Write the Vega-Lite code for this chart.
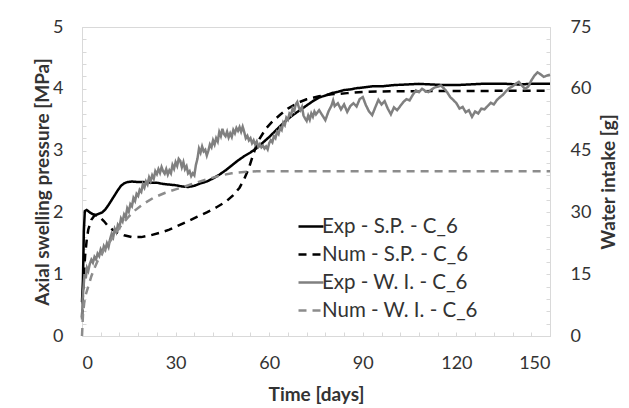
{
  "$schema": "https://vega.github.io/schema/vega-lite/v6.json",
  "width": 468,
  "height": 309,
  "autosize": {"type": "none"},
  "padding": {"left": 82, "top": 27, "right": 79, "bottom": 72},
  "background": "white",
  "config": {
    "view": {"stroke": "#d9d9d9", "strokeWidth": 1},
    "font": "Lato",
    "axis": {
      "grid": false,
      "domainColor": "#d9d9d9",
      "tickColor": "#d9d9d9",
      "tickSize": -4,
      "labelOverlap": false,
      "labelBound": false,
      "labelFont": "Lato",
      "labelFontSize": 18,
      "labelColor": "#333333",
      "titleFont": "Lato",
      "titleFontSize": 19,
      "titleFontWeight": "bold",
      "titleColor": "#333333"
    },
    "legend": {
      "labelFont": "Lato",
      "labelFontSize": 20.5,
      "labelColor": "#333333"
    }
  },
  "datasets": {
    "sp": [
      {"day": 0, "value": 0.55, "series": "Exp - S.P. - C_6"},
      {"day": 0.3, "value": 0.9, "series": "Exp - S.P. - C_6"},
      {"day": 0.6, "value": 1.7, "series": "Exp - S.P. - C_6"},
      {"day": 0.9, "value": 2.02, "series": "Exp - S.P. - C_6"},
      {"day": 1.5, "value": 2.04, "series": "Exp - S.P. - C_6"},
      {"day": 2.5, "value": 2.0, "series": "Exp - S.P. - C_6"},
      {"day": 3.5, "value": 1.97, "series": "Exp - S.P. - C_6"},
      {"day": 4.5, "value": 1.96, "series": "Exp - S.P. - C_6"},
      {"day": 5.5, "value": 1.98, "series": "Exp - S.P. - C_6"},
      {"day": 6.5, "value": 2.0, "series": "Exp - S.P. - C_6"},
      {"day": 7.5, "value": 2.05, "series": "Exp - S.P. - C_6"},
      {"day": 8.5, "value": 2.12, "series": "Exp - S.P. - C_6"},
      {"day": 9.5, "value": 2.2, "series": "Exp - S.P. - C_6"},
      {"day": 10.5, "value": 2.28, "series": "Exp - S.P. - C_6"},
      {"day": 11.5, "value": 2.36, "series": "Exp - S.P. - C_6"},
      {"day": 12.5, "value": 2.43, "series": "Exp - S.P. - C_6"},
      {"day": 13.5, "value": 2.47, "series": "Exp - S.P. - C_6"},
      {"day": 14.5, "value": 2.49, "series": "Exp - S.P. - C_6"},
      {"day": 16, "value": 2.5, "series": "Exp - S.P. - C_6"},
      {"day": 18, "value": 2.49, "series": "Exp - S.P. - C_6"},
      {"day": 20, "value": 2.49, "series": "Exp - S.P. - C_6"},
      {"day": 22, "value": 2.48, "series": "Exp - S.P. - C_6"},
      {"day": 24, "value": 2.48, "series": "Exp - S.P. - C_6"},
      {"day": 26, "value": 2.46, "series": "Exp - S.P. - C_6"},
      {"day": 28, "value": 2.45, "series": "Exp - S.P. - C_6"},
      {"day": 30, "value": 2.44, "series": "Exp - S.P. - C_6"},
      {"day": 32, "value": 2.42, "series": "Exp - S.P. - C_6"},
      {"day": 34, "value": 2.41, "series": "Exp - S.P. - C_6"},
      {"day": 36, "value": 2.43, "series": "Exp - S.P. - C_6"},
      {"day": 38, "value": 2.47, "series": "Exp - S.P. - C_6"},
      {"day": 40, "value": 2.5, "series": "Exp - S.P. - C_6"},
      {"day": 42, "value": 2.55, "series": "Exp - S.P. - C_6"},
      {"day": 44, "value": 2.61, "series": "Exp - S.P. - C_6"},
      {"day": 46, "value": 2.68, "series": "Exp - S.P. - C_6"},
      {"day": 48, "value": 2.76, "series": "Exp - S.P. - C_6"},
      {"day": 50, "value": 2.84, "series": "Exp - S.P. - C_6"},
      {"day": 52, "value": 2.91, "series": "Exp - S.P. - C_6"},
      {"day": 54, "value": 2.97, "series": "Exp - S.P. - C_6"},
      {"day": 56, "value": 3.04, "series": "Exp - S.P. - C_6"},
      {"day": 58, "value": 3.13, "series": "Exp - S.P. - C_6"},
      {"day": 60, "value": 3.22, "series": "Exp - S.P. - C_6"},
      {"day": 62, "value": 3.32, "series": "Exp - S.P. - C_6"},
      {"day": 64, "value": 3.42, "series": "Exp - S.P. - C_6"},
      {"day": 66, "value": 3.51, "series": "Exp - S.P. - C_6"},
      {"day": 68, "value": 3.59, "series": "Exp - S.P. - C_6"},
      {"day": 70, "value": 3.66, "series": "Exp - S.P. - C_6"},
      {"day": 72, "value": 3.73, "series": "Exp - S.P. - C_6"},
      {"day": 74, "value": 3.8, "series": "Exp - S.P. - C_6"},
      {"day": 76, "value": 3.86, "series": "Exp - S.P. - C_6"},
      {"day": 78, "value": 3.89, "series": "Exp - S.P. - C_6"},
      {"day": 80, "value": 3.93, "series": "Exp - S.P. - C_6"},
      {"day": 82, "value": 3.95, "series": "Exp - S.P. - C_6"},
      {"day": 84, "value": 3.98, "series": "Exp - S.P. - C_6"},
      {"day": 86, "value": 3.99, "series": "Exp - S.P. - C_6"},
      {"day": 88, "value": 4.01, "series": "Exp - S.P. - C_6"},
      {"day": 90, "value": 4.02, "series": "Exp - S.P. - C_6"},
      {"day": 93, "value": 4.04, "series": "Exp - S.P. - C_6"},
      {"day": 96, "value": 4.04, "series": "Exp - S.P. - C_6"},
      {"day": 100, "value": 4.06, "series": "Exp - S.P. - C_6"},
      {"day": 104, "value": 4.07, "series": "Exp - S.P. - C_6"},
      {"day": 108, "value": 4.08, "series": "Exp - S.P. - C_6"},
      {"day": 112, "value": 4.07, "series": "Exp - S.P. - C_6"},
      {"day": 116, "value": 4.06, "series": "Exp - S.P. - C_6"},
      {"day": 120, "value": 4.06, "series": "Exp - S.P. - C_6"},
      {"day": 124, "value": 4.07, "series": "Exp - S.P. - C_6"},
      {"day": 128, "value": 4.08, "series": "Exp - S.P. - C_6"},
      {"day": 132, "value": 4.08, "series": "Exp - S.P. - C_6"},
      {"day": 136, "value": 4.08, "series": "Exp - S.P. - C_6"},
      {"day": 140, "value": 4.07, "series": "Exp - S.P. - C_6"},
      {"day": 144, "value": 4.08, "series": "Exp - S.P. - C_6"},
      {"day": 150, "value": 4.08, "series": "Exp - S.P. - C_6"},
      {"day": 0, "value": 0.3, "series": "Num - S.P. - C_6"},
      {"day": 0.5, "value": 0.9, "series": "Num - S.P. - C_6"},
      {"day": 1, "value": 1.3, "series": "Num - S.P. - C_6"},
      {"day": 1.5, "value": 1.55, "series": "Num - S.P. - C_6"},
      {"day": 2, "value": 1.72, "series": "Num - S.P. - C_6"},
      {"day": 3, "value": 1.88, "series": "Num - S.P. - C_6"},
      {"day": 4, "value": 1.95, "series": "Num - S.P. - C_6"},
      {"day": 5, "value": 1.95, "series": "Num - S.P. - C_6"},
      {"day": 6, "value": 1.91, "series": "Num - S.P. - C_6"},
      {"day": 7, "value": 1.86, "series": "Num - S.P. - C_6"},
      {"day": 8, "value": 1.8, "series": "Num - S.P. - C_6"},
      {"day": 9, "value": 1.75, "series": "Num - S.P. - C_6"},
      {"day": 10, "value": 1.71, "series": "Num - S.P. - C_6"},
      {"day": 11.5, "value": 1.67, "series": "Num - S.P. - C_6"},
      {"day": 13.5, "value": 1.63, "series": "Num - S.P. - C_6"},
      {"day": 16, "value": 1.6, "series": "Num - S.P. - C_6"},
      {"day": 19, "value": 1.6, "series": "Num - S.P. - C_6"},
      {"day": 22, "value": 1.63, "series": "Num - S.P. - C_6"},
      {"day": 25, "value": 1.67, "series": "Num - S.P. - C_6"},
      {"day": 28, "value": 1.72, "series": "Num - S.P. - C_6"},
      {"day": 31, "value": 1.79, "series": "Num - S.P. - C_6"},
      {"day": 34, "value": 1.86, "series": "Num - S.P. - C_6"},
      {"day": 37, "value": 1.93, "series": "Num - S.P. - C_6"},
      {"day": 40, "value": 2.0, "series": "Num - S.P. - C_6"},
      {"day": 43, "value": 2.08, "series": "Num - S.P. - C_6"},
      {"day": 46, "value": 2.17, "series": "Num - S.P. - C_6"},
      {"day": 48.5, "value": 2.28, "series": "Num - S.P. - C_6"},
      {"day": 50.5, "value": 2.4, "series": "Num - S.P. - C_6"},
      {"day": 52, "value": 2.54, "series": "Num - S.P. - C_6"},
      {"day": 53.5, "value": 2.72, "series": "Num - S.P. - C_6"},
      {"day": 54.5, "value": 2.88, "series": "Num - S.P. - C_6"},
      {"day": 55.5, "value": 3.03, "series": "Num - S.P. - C_6"},
      {"day": 57, "value": 3.2, "series": "Num - S.P. - C_6"},
      {"day": 59, "value": 3.36, "series": "Num - S.P. - C_6"},
      {"day": 61, "value": 3.47, "series": "Num - S.P. - C_6"},
      {"day": 63.5, "value": 3.58, "series": "Num - S.P. - C_6"},
      {"day": 66, "value": 3.68, "series": "Num - S.P. - C_6"},
      {"day": 69, "value": 3.77, "series": "Num - S.P. - C_6"},
      {"day": 72, "value": 3.83, "series": "Num - S.P. - C_6"},
      {"day": 76, "value": 3.88, "series": "Num - S.P. - C_6"},
      {"day": 80, "value": 3.91, "series": "Num - S.P. - C_6"},
      {"day": 85, "value": 3.93, "series": "Num - S.P. - C_6"},
      {"day": 90, "value": 3.95, "series": "Num - S.P. - C_6"},
      {"day": 100, "value": 3.96, "series": "Num - S.P. - C_6"},
      {"day": 150, "value": 3.97, "series": "Num - S.P. - C_6"}
    ],
    "wi": [
      {"day": 0, "value": 4, "series": "Exp - W. I. - C_6"},
      {"day": 0.2, "value": 9, "series": "Exp - W. I. - C_6"},
      {"day": 0.5, "value": 12, "series": "Exp - W. I. - C_6"},
      {"day": 0.8, "value": 15, "series": "Exp - W. I. - C_6"},
      {"day": 1.2, "value": 14, "series": "Exp - W. I. - C_6"},
      {"day": 1.6, "value": 16.5, "series": "Exp - W. I. - C_6"},
      {"day": 2, "value": 15.8, "series": "Exp - W. I. - C_6"},
      {"day": 2.5, "value": 17.5, "series": "Exp - W. I. - C_6"},
      {"day": 3, "value": 18.5, "series": "Exp - W. I. - C_6"},
      {"day": 3.5, "value": 17.8, "series": "Exp - W. I. - C_6"},
      {"day": 4, "value": 19.2, "series": "Exp - W. I. - C_6"},
      {"day": 4.5, "value": 18.6, "series": "Exp - W. I. - C_6"},
      {"day": 5, "value": 20, "series": "Exp - W. I. - C_6"},
      {"day": 5.5, "value": 19.4, "series": "Exp - W. I. - C_6"},
      {"day": 6, "value": 21, "series": "Exp - W. I. - C_6"},
      {"day": 6.5, "value": 20.2, "series": "Exp - W. I. - C_6"},
      {"day": 7, "value": 21.8, "series": "Exp - W. I. - C_6"},
      {"day": 7.5, "value": 21, "series": "Exp - W. I. - C_6"},
      {"day": 8, "value": 22.5, "series": "Exp - W. I. - C_6"},
      {"day": 8.5, "value": 21.6, "series": "Exp - W. I. - C_6"},
      {"day": 9, "value": 23.5, "series": "Exp - W. I. - C_6"},
      {"day": 9.5, "value": 24.8, "series": "Exp - W. I. - C_6"},
      {"day": 10, "value": 24, "series": "Exp - W. I. - C_6"},
      {"day": 10.5, "value": 26, "series": "Exp - W. I. - C_6"},
      {"day": 11, "value": 25.2, "series": "Exp - W. I. - C_6"},
      {"day": 11.5, "value": 27, "series": "Exp - W. I. - C_6"},
      {"day": 12, "value": 26.4, "series": "Exp - W. I. - C_6"},
      {"day": 12.5, "value": 28.5, "series": "Exp - W. I. - C_6"},
      {"day": 13, "value": 27.8, "series": "Exp - W. I. - C_6"},
      {"day": 13.5, "value": 29.5, "series": "Exp - W. I. - C_6"},
      {"day": 14, "value": 28.8, "series": "Exp - W. I. - C_6"},
      {"day": 14.5, "value": 31, "series": "Exp - W. I. - C_6"},
      {"day": 15, "value": 30.2, "series": "Exp - W. I. - C_6"},
      {"day": 15.5, "value": 32, "series": "Exp - W. I. - C_6"},
      {"day": 16, "value": 31.5, "series": "Exp - W. I. - C_6"},
      {"day": 16.5, "value": 33.5, "series": "Exp - W. I. - C_6"},
      {"day": 17, "value": 32.8, "series": "Exp - W. I. - C_6"},
      {"day": 17.5, "value": 34.5, "series": "Exp - W. I. - C_6"},
      {"day": 18, "value": 34, "series": "Exp - W. I. - C_6"},
      {"day": 18.5, "value": 35.5, "series": "Exp - W. I. - C_6"},
      {"day": 19, "value": 35, "series": "Exp - W. I. - C_6"},
      {"day": 19.5, "value": 36.8, "series": "Exp - W. I. - C_6"},
      {"day": 20, "value": 36, "series": "Exp - W. I. - C_6"},
      {"day": 20.5, "value": 37.5, "series": "Exp - W. I. - C_6"},
      {"day": 21, "value": 36.8, "series": "Exp - W. I. - C_6"},
      {"day": 21.5, "value": 38.5, "series": "Exp - W. I. - C_6"},
      {"day": 22, "value": 37.6, "series": "Exp - W. I. - C_6"},
      {"day": 22.5, "value": 39, "series": "Exp - W. I. - C_6"},
      {"day": 23, "value": 38.2, "series": "Exp - W. I. - C_6"},
      {"day": 23.5, "value": 40, "series": "Exp - W. I. - C_6"},
      {"day": 24, "value": 39.3, "series": "Exp - W. I. - C_6"},
      {"day": 24.5, "value": 40.5, "series": "Exp - W. I. - C_6"},
      {"day": 25, "value": 39.6, "series": "Exp - W. I. - C_6"},
      {"day": 25.5, "value": 41, "series": "Exp - W. I. - C_6"},
      {"day": 26, "value": 40, "series": "Exp - W. I. - C_6"},
      {"day": 26.5, "value": 39.4, "series": "Exp - W. I. - C_6"},
      {"day": 27, "value": 40.5, "series": "Exp - W. I. - C_6"},
      {"day": 27.5, "value": 39.2, "series": "Exp - W. I. - C_6"},
      {"day": 28, "value": 40.2, "series": "Exp - W. I. - C_6"},
      {"day": 28.5, "value": 39.5, "series": "Exp - W. I. - C_6"},
      {"day": 29, "value": 41.5, "series": "Exp - W. I. - C_6"},
      {"day": 29.5, "value": 40.6, "series": "Exp - W. I. - C_6"},
      {"day": 30, "value": 42.2, "series": "Exp - W. I. - C_6"},
      {"day": 30.5, "value": 41.3, "series": "Exp - W. I. - C_6"},
      {"day": 31, "value": 43, "series": "Exp - W. I. - C_6"},
      {"day": 31.5, "value": 42.5, "series": "Exp - W. I. - C_6"},
      {"day": 32, "value": 41, "series": "Exp - W. I. - C_6"},
      {"day": 32.5, "value": 42.2, "series": "Exp - W. I. - C_6"},
      {"day": 33, "value": 40.5, "series": "Exp - W. I. - C_6"},
      {"day": 33.5, "value": 41.2, "series": "Exp - W. I. - C_6"},
      {"day": 34, "value": 39.5, "series": "Exp - W. I. - C_6"},
      {"day": 34.5, "value": 40, "series": "Exp - W. I. - C_6"},
      {"day": 35, "value": 38.8, "series": "Exp - W. I. - C_6"},
      {"day": 35.5, "value": 39.5, "series": "Exp - W. I. - C_6"},
      {"day": 36, "value": 39, "series": "Exp - W. I. - C_6"},
      {"day": 36.5, "value": 41.5, "series": "Exp - W. I. - C_6"},
      {"day": 37, "value": 43, "series": "Exp - W. I. - C_6"},
      {"day": 37.5, "value": 45.5, "series": "Exp - W. I. - C_6"},
      {"day": 38, "value": 44.5, "series": "Exp - W. I. - C_6"},
      {"day": 38.5, "value": 46, "series": "Exp - W. I. - C_6"},
      {"day": 39, "value": 44.8, "series": "Exp - W. I. - C_6"},
      {"day": 39.5, "value": 45.2, "series": "Exp - W. I. - C_6"},
      {"day": 40, "value": 43.8, "series": "Exp - W. I. - C_6"},
      {"day": 40.5, "value": 45, "series": "Exp - W. I. - C_6"},
      {"day": 41, "value": 46.5, "series": "Exp - W. I. - C_6"},
      {"day": 41.5, "value": 45.8, "series": "Exp - W. I. - C_6"},
      {"day": 42, "value": 47.5, "series": "Exp - W. I. - C_6"},
      {"day": 42.5, "value": 46.5, "series": "Exp - W. I. - C_6"},
      {"day": 43, "value": 48, "series": "Exp - W. I. - C_6"},
      {"day": 43.5, "value": 47.2, "series": "Exp - W. I. - C_6"},
      {"day": 44, "value": 49.5, "series": "Exp - W. I. - C_6"},
      {"day": 44.5, "value": 48.5, "series": "Exp - W. I. - C_6"},
      {"day": 45, "value": 50.3, "series": "Exp - W. I. - C_6"},
      {"day": 45.5, "value": 49, "series": "Exp - W. I. - C_6"},
      {"day": 46, "value": 48.5, "series": "Exp - W. I. - C_6"},
      {"day": 46.5, "value": 49.6, "series": "Exp - W. I. - C_6"},
      {"day": 47, "value": 48.2, "series": "Exp - W. I. - C_6"},
      {"day": 47.5, "value": 49.2, "series": "Exp - W. I. - C_6"},
      {"day": 48, "value": 48.3, "series": "Exp - W. I. - C_6"},
      {"day": 48.5, "value": 50, "series": "Exp - W. I. - C_6"},
      {"day": 49, "value": 49.2, "series": "Exp - W. I. - C_6"},
      {"day": 49.5, "value": 50.5, "series": "Exp - W. I. - C_6"},
      {"day": 50, "value": 49.8, "series": "Exp - W. I. - C_6"},
      {"day": 50.5, "value": 50.7, "series": "Exp - W. I. - C_6"},
      {"day": 51, "value": 49.6, "series": "Exp - W. I. - C_6"},
      {"day": 51.5, "value": 50.8, "series": "Exp - W. I. - C_6"},
      {"day": 52, "value": 49.5, "series": "Exp - W. I. - C_6"},
      {"day": 52.5, "value": 48, "series": "Exp - W. I. - C_6"},
      {"day": 53, "value": 48.6, "series": "Exp - W. I. - C_6"},
      {"day": 53.5, "value": 47.5, "series": "Exp - W. I. - C_6"},
      {"day": 54, "value": 48, "series": "Exp - W. I. - C_6"},
      {"day": 54.5, "value": 46.8, "series": "Exp - W. I. - C_6"},
      {"day": 55, "value": 47.5, "series": "Exp - W. I. - C_6"},
      {"day": 55.5, "value": 46.5, "series": "Exp - W. I. - C_6"},
      {"day": 56, "value": 47.2, "series": "Exp - W. I. - C_6"},
      {"day": 56.5, "value": 46, "series": "Exp - W. I. - C_6"},
      {"day": 57, "value": 46.6, "series": "Exp - W. I. - C_6"},
      {"day": 57.5, "value": 45.8, "series": "Exp - W. I. - C_6"},
      {"day": 58, "value": 46.2, "series": "Exp - W. I. - C_6"},
      {"day": 58.5, "value": 45.5, "series": "Exp - W. I. - C_6"},
      {"day": 59, "value": 46, "series": "Exp - W. I. - C_6"},
      {"day": 59.5, "value": 45.3, "series": "Exp - W. I. - C_6"},
      {"day": 60, "value": 46.8, "series": "Exp - W. I. - C_6"},
      {"day": 60.5, "value": 47.5, "series": "Exp - W. I. - C_6"},
      {"day": 61, "value": 47, "series": "Exp - W. I. - C_6"},
      {"day": 61.5, "value": 48.5, "series": "Exp - W. I. - C_6"},
      {"day": 62, "value": 48, "series": "Exp - W. I. - C_6"},
      {"day": 62.5, "value": 49.5, "series": "Exp - W. I. - C_6"},
      {"day": 63, "value": 49, "series": "Exp - W. I. - C_6"},
      {"day": 63.5, "value": 50.5, "series": "Exp - W. I. - C_6"},
      {"day": 64, "value": 50, "series": "Exp - W. I. - C_6"},
      {"day": 64.5, "value": 51.8, "series": "Exp - W. I. - C_6"},
      {"day": 65, "value": 51.2, "series": "Exp - W. I. - C_6"},
      {"day": 65.5, "value": 53, "series": "Exp - W. I. - C_6"},
      {"day": 66, "value": 52.5, "series": "Exp - W. I. - C_6"},
      {"day": 66.5, "value": 54, "series": "Exp - W. I. - C_6"},
      {"day": 67, "value": 53.6, "series": "Exp - W. I. - C_6"},
      {"day": 67.5, "value": 55.2, "series": "Exp - W. I. - C_6"},
      {"day": 68, "value": 54.6, "series": "Exp - W. I. - C_6"},
      {"day": 68.5, "value": 56.2, "series": "Exp - W. I. - C_6"},
      {"day": 69, "value": 56.8, "series": "Exp - W. I. - C_6"},
      {"day": 69.5, "value": 55.5, "series": "Exp - W. I. - C_6"},
      {"day": 70, "value": 54.8, "series": "Exp - W. I. - C_6"},
      {"day": 70.5, "value": 55.6, "series": "Exp - W. I. - C_6"},
      {"day": 71, "value": 53.5, "series": "Exp - W. I. - C_6"},
      {"day": 71.5, "value": 52.8, "series": "Exp - W. I. - C_6"},
      {"day": 72, "value": 52.2, "series": "Exp - W. I. - C_6"},
      {"day": 72.5, "value": 53.5, "series": "Exp - W. I. - C_6"},
      {"day": 73, "value": 52.5, "series": "Exp - W. I. - C_6"},
      {"day": 73.5, "value": 54, "series": "Exp - W. I. - C_6"},
      {"day": 74, "value": 53.2, "series": "Exp - W. I. - C_6"},
      {"day": 74.5, "value": 54.5, "series": "Exp - W. I. - C_6"},
      {"day": 75, "value": 53.8, "series": "Exp - W. I. - C_6"},
      {"day": 76, "value": 54.8, "series": "Exp - W. I. - C_6"},
      {"day": 77, "value": 53.6, "series": "Exp - W. I. - C_6"},
      {"day": 78, "value": 52.4, "series": "Exp - W. I. - C_6"},
      {"day": 79, "value": 54.5, "series": "Exp - W. I. - C_6"},
      {"day": 80, "value": 56, "series": "Exp - W. I. - C_6"},
      {"day": 80.5, "value": 57.2, "series": "Exp - W. I. - C_6"},
      {"day": 81, "value": 55.8, "series": "Exp - W. I. - C_6"},
      {"day": 82, "value": 56.5, "series": "Exp - W. I. - C_6"},
      {"day": 83, "value": 55, "series": "Exp - W. I. - C_6"},
      {"day": 84, "value": 56.2, "series": "Exp - W. I. - C_6"},
      {"day": 85, "value": 54.4, "series": "Exp - W. I. - C_6"},
      {"day": 86, "value": 55.8, "series": "Exp - W. I. - C_6"},
      {"day": 87, "value": 56.5, "series": "Exp - W. I. - C_6"},
      {"day": 88, "value": 55.7, "series": "Exp - W. I. - C_6"},
      {"day": 89, "value": 57.5, "series": "Exp - W. I. - C_6"},
      {"day": 90, "value": 58, "series": "Exp - W. I. - C_6"},
      {"day": 91, "value": 56, "series": "Exp - W. I. - C_6"},
      {"day": 92, "value": 54.5, "series": "Exp - W. I. - C_6"},
      {"day": 93, "value": 53.6, "series": "Exp - W. I. - C_6"},
      {"day": 94, "value": 55.5, "series": "Exp - W. I. - C_6"},
      {"day": 95, "value": 57.3, "series": "Exp - W. I. - C_6"},
      {"day": 96, "value": 56.2, "series": "Exp - W. I. - C_6"},
      {"day": 97, "value": 57, "series": "Exp - W. I. - C_6"},
      {"day": 98, "value": 55.2, "series": "Exp - W. I. - C_6"},
      {"day": 99, "value": 53.8, "series": "Exp - W. I. - C_6"},
      {"day": 100, "value": 55.5, "series": "Exp - W. I. - C_6"},
      {"day": 101, "value": 54.8, "series": "Exp - W. I. - C_6"},
      {"day": 102, "value": 55.8, "series": "Exp - W. I. - C_6"},
      {"day": 103, "value": 56.8, "series": "Exp - W. I. - C_6"},
      {"day": 104, "value": 57.5, "series": "Exp - W. I. - C_6"},
      {"day": 105, "value": 57.2, "series": "Exp - W. I. - C_6"},
      {"day": 106, "value": 58.5, "series": "Exp - W. I. - C_6"},
      {"day": 107, "value": 59.6, "series": "Exp - W. I. - C_6"},
      {"day": 108, "value": 59.2, "series": "Exp - W. I. - C_6"},
      {"day": 109, "value": 60, "series": "Exp - W. I. - C_6"},
      {"day": 110, "value": 59.5, "series": "Exp - W. I. - C_6"},
      {"day": 111, "value": 59.2, "series": "Exp - W. I. - C_6"},
      {"day": 112, "value": 59.8, "series": "Exp - W. I. - C_6"},
      {"day": 113, "value": 60.3, "series": "Exp - W. I. - C_6"},
      {"day": 114, "value": 60.5, "series": "Exp - W. I. - C_6"},
      {"day": 115, "value": 60.8, "series": "Exp - W. I. - C_6"},
      {"day": 116, "value": 60.1, "series": "Exp - W. I. - C_6"},
      {"day": 117, "value": 59.2, "series": "Exp - W. I. - C_6"},
      {"day": 118, "value": 58, "series": "Exp - W. I. - C_6"},
      {"day": 119, "value": 57.3, "series": "Exp - W. I. - C_6"},
      {"day": 120, "value": 56.5, "series": "Exp - W. I. - C_6"},
      {"day": 121, "value": 55.2, "series": "Exp - W. I. - C_6"},
      {"day": 122, "value": 55.6, "series": "Exp - W. I. - C_6"},
      {"day": 123, "value": 54.3, "series": "Exp - W. I. - C_6"},
      {"day": 124, "value": 54.8, "series": "Exp - W. I. - C_6"},
      {"day": 125, "value": 53.2, "series": "Exp - W. I. - C_6"},
      {"day": 126, "value": 54.5, "series": "Exp - W. I. - C_6"},
      {"day": 127, "value": 54, "series": "Exp - W. I. - C_6"},
      {"day": 128, "value": 55.2, "series": "Exp - W. I. - C_6"},
      {"day": 129, "value": 55, "series": "Exp - W. I. - C_6"},
      {"day": 130, "value": 55.8, "series": "Exp - W. I. - C_6"},
      {"day": 131, "value": 56.6, "series": "Exp - W. I. - C_6"},
      {"day": 132, "value": 56.2, "series": "Exp - W. I. - C_6"},
      {"day": 133, "value": 57.3, "series": "Exp - W. I. - C_6"},
      {"day": 134, "value": 58, "series": "Exp - W. I. - C_6"},
      {"day": 135, "value": 58.6, "series": "Exp - W. I. - C_6"},
      {"day": 136, "value": 59.5, "series": "Exp - W. I. - C_6"},
      {"day": 137, "value": 60.2, "series": "Exp - W. I. - C_6"},
      {"day": 138, "value": 60.6, "series": "Exp - W. I. - C_6"},
      {"day": 139, "value": 61.2, "series": "Exp - W. I. - C_6"},
      {"day": 140, "value": 61.7, "series": "Exp - W. I. - C_6"},
      {"day": 141, "value": 60.8, "series": "Exp - W. I. - C_6"},
      {"day": 142, "value": 60, "series": "Exp - W. I. - C_6"},
      {"day": 143, "value": 60.5, "series": "Exp - W. I. - C_6"},
      {"day": 144, "value": 62, "series": "Exp - W. I. - C_6"},
      {"day": 145, "value": 63.2, "series": "Exp - W. I. - C_6"},
      {"day": 146, "value": 64, "series": "Exp - W. I. - C_6"},
      {"day": 147, "value": 63.5, "series": "Exp - W. I. - C_6"},
      {"day": 148, "value": 62.9, "series": "Exp - W. I. - C_6"},
      {"day": 149, "value": 63.2, "series": "Exp - W. I. - C_6"},
      {"day": 150, "value": 63.4, "series": "Exp - W. I. - C_6"},
      {"day": 0, "value": 0, "series": "Num - W. I. - C_6"},
      {"day": 0.3, "value": 5, "series": "Num - W. I. - C_6"},
      {"day": 0.7, "value": 8, "series": "Num - W. I. - C_6"},
      {"day": 1.2, "value": 10, "series": "Num - W. I. - C_6"},
      {"day": 2, "value": 12, "series": "Num - W. I. - C_6"},
      {"day": 3, "value": 14.5, "series": "Num - W. I. - C_6"},
      {"day": 4, "value": 16.5, "series": "Num - W. I. - C_6"},
      {"day": 5, "value": 18.2, "series": "Num - W. I. - C_6"},
      {"day": 6, "value": 19.6, "series": "Num - W. I. - C_6"},
      {"day": 7, "value": 20.8, "series": "Num - W. I. - C_6"},
      {"day": 8, "value": 22, "series": "Num - W. I. - C_6"},
      {"day": 9.3, "value": 23.3, "series": "Num - W. I. - C_6"},
      {"day": 11, "value": 25.2, "series": "Num - W. I. - C_6"},
      {"day": 13, "value": 27.3, "series": "Num - W. I. - C_6"},
      {"day": 15, "value": 29, "series": "Num - W. I. - C_6"},
      {"day": 17, "value": 30.5, "series": "Num - W. I. - C_6"},
      {"day": 20, "value": 32.2, "series": "Num - W. I. - C_6"},
      {"day": 23, "value": 33.6, "series": "Num - W. I. - C_6"},
      {"day": 26.5, "value": 34.7, "series": "Num - W. I. - C_6"},
      {"day": 30, "value": 35.6, "series": "Num - W. I. - C_6"},
      {"day": 33, "value": 36.3, "series": "Num - W. I. - C_6"},
      {"day": 36, "value": 37.1, "series": "Num - W. I. - C_6"},
      {"day": 40, "value": 38, "series": "Num - W. I. - C_6"},
      {"day": 44, "value": 38.9, "series": "Num - W. I. - C_6"},
      {"day": 48, "value": 39.5, "series": "Num - W. I. - C_6"},
      {"day": 52, "value": 39.8, "series": "Num - W. I. - C_6"},
      {"day": 56, "value": 40, "series": "Num - W. I. - C_6"},
      {"day": 150, "value": 40, "series": "Num - W. I. - C_6"}
    ]
  },
  "layer": [
    {
      "data": {"name": "sp"},
      "mark": {"type": "line", "strokeWidth": 2.5},
      "encoding": {
        "x": {
          "field": "day", "type": "quantitative",
          "scale": {"domain": [0, 150], "nice": false},
          "axis": {
            "title": "Time [days]",
            "values": [0, 6, 12, 18, 24, 30, 36, 42, 48, 54, 60, 66, 72, 78, 84, 90, 96, 102, 108, 114, 120, 126, 132, 138, 144, 150],
            "labelExpr": "datum.value % 30 == 0 ? datum.label : ''",
            "labelPadding": 22,
            "titlePadding": 13
          }
        },
        "y": {
          "field": "value", "type": "quantitative",
          "scale": {"domain": [0, 5], "nice": false},
          "axis": {
            "title": "Axial swelling pressure [MPa]",
            "orient": "left",
            "values": [0, 0.2, 0.4, 0.6, 0.8, 1, 1.2, 1.4, 1.6, 1.8, 2, 2.2, 2.4, 2.6, 2.8, 3, 3.2, 3.4, 3.6, 3.8, 4, 4.2, 4.4, 4.6, 4.8, 5],
            "labelExpr": "abs(datum.value - round(datum.value)) < 0.001 ? toString(round(datum.value)) : ''",
            "labelPadding": 23,
            "titlePadding": 0
          }
        },
        "color": {
          "field": "series", "type": "nominal",
          "scale": {
            "domain": ["Exp - S.P. - C_6", "Num - S.P. - C_6", "Exp - W. I. - C_6", "Num - W. I. - C_6"],
            "range": ["#000000", "#000000", "#808080", "#8c8c8c"]
          },
          "legend": {
            "title": null,
            "orient": "none",
            "legendX": 215,
            "legendY": 185.5,
            "symbolType": "stroke",
            "symbolSize": 625,
            "symbolStrokeWidth": 2.5,
            "labelOffset": -3,
            "rowPadding": 3
          }
        },
        "strokeDash": {
          "field": "series", "type": "nominal",
          "scale": {
            "domain": ["Exp - S.P. - C_6", "Num - S.P. - C_6", "Exp - W. I. - C_6", "Num - W. I. - C_6"],
            "range": [[1, 0], [8, 6], [1, 0], [8, 6]]
          },
          "legend": {
            "title": null,
            "orient": "none",
            "legendX": 215,
            "legendY": 185.5,
            "symbolType": "stroke",
            "symbolSize": 625,
            "symbolStrokeWidth": 2.5,
            "labelOffset": -3,
            "rowPadding": 3
          }
        }
      }
    },
    {
      "data": {"name": "wi"},
      "mark": {"type": "line", "strokeWidth": 2.5},
      "encoding": {
        "x": {
          "field": "day", "type": "quantitative",
          "scale": {"domain": [0, 150], "nice": false},
          "axis": {
            "title": "Time [days]",
            "values": [0, 6, 12, 18, 24, 30, 36, 42, 48, 54, 60, 66, 72, 78, 84, 90, 96, 102, 108, 114, 120, 126, 132, 138, 144, 150],
            "labelExpr": "datum.value % 30 == 0 ? datum.label : ''",
            "labelPadding": 22,
            "titlePadding": 13
          }
        },
        "y": {
          "field": "value", "type": "quantitative",
          "scale": {"domain": [0, 75], "nice": false},
          "axis": {
            "title": "Water intake [g]",
            "orient": "right",
            "titleAngle": 270,
            "values": [0, 3, 6, 9, 12, 15, 18, 21, 24, 27, 30, 33, 36, 39, 42, 45, 48, 51, 54, 57, 60, 63, 66, 69, 72, 75],
            "labelExpr": "datum.value % 15 == 0 ? toString(datum.value) : ''",
            "labelPadding": 24,
            "titlePadding": 28
          }
        },
        "color": {"field": "series", "type": "nominal"},
        "strokeDash": {"field": "series", "type": "nominal"}
      }
    }
  ],
  "resolve": {"scale": {"y": "independent"}}
}
